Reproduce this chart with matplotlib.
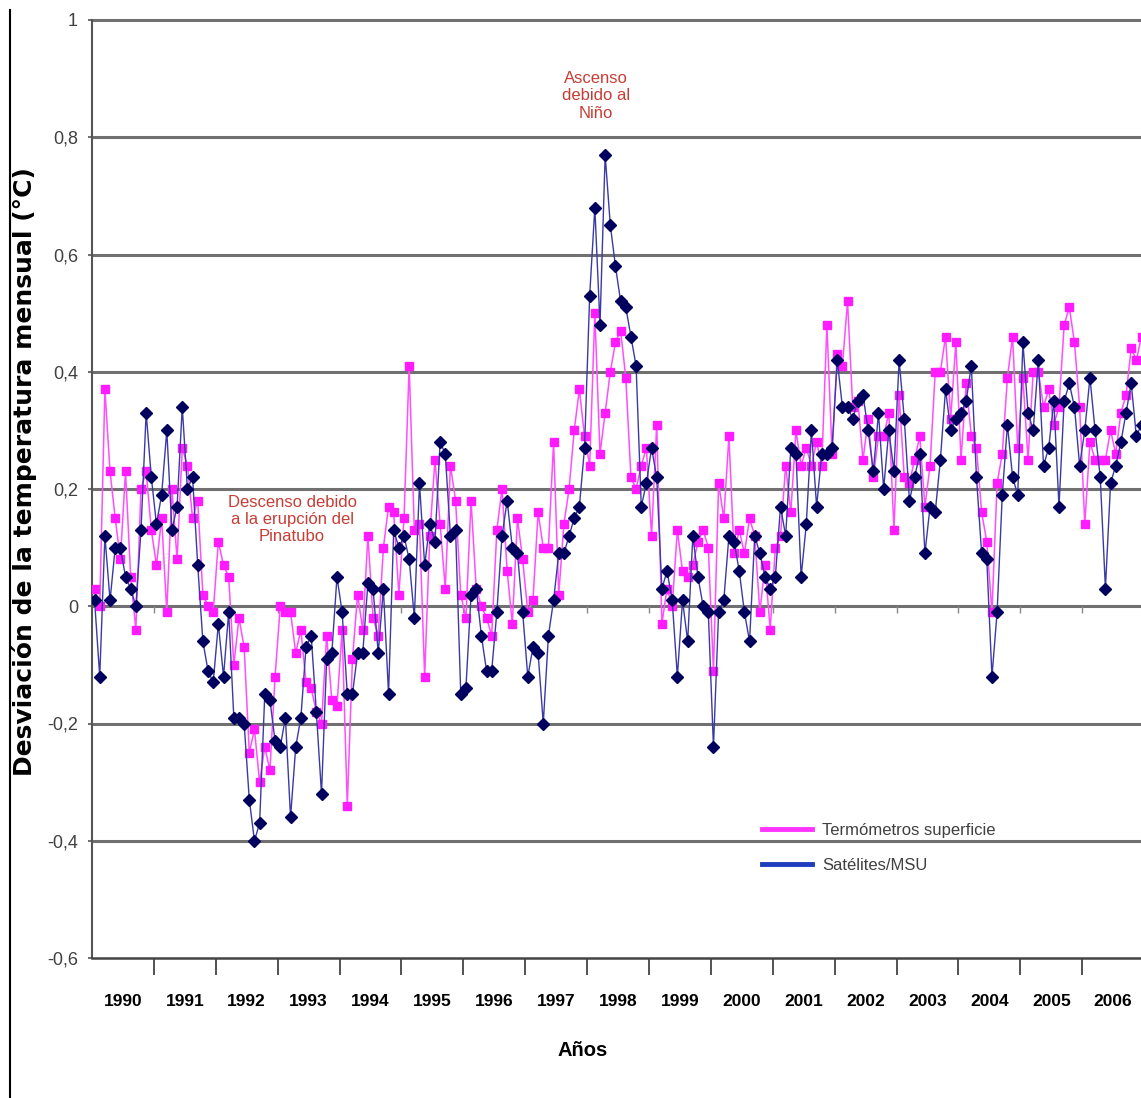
import matplotlib
matplotlib.use("Agg")
import matplotlib.pyplot as plt
from matplotlib.lines import Line2D
import numpy as np

YEARS = list(range(1990, 2007))

# monthly anomaly (°C), Jan 1990 - Dec 2006
SUPERFICIE = [
    0.03, 0.00, 0.37, 0.23, 0.15, 0.08, 0.23, 0.05, -0.04, 0.20, 0.23, 0.13,        # 1990
    0.07, 0.15, -0.01, 0.20, 0.08, 0.27, 0.24, 0.15, 0.18, 0.02, 0.00, -0.01,       # 1991
    0.11, 0.07, 0.05, -0.10, -0.02, -0.07, -0.25, -0.21, -0.30, -0.24, -0.28, -0.12,  # 1992
    0.00, -0.01, -0.01, -0.08, -0.04, -0.13, -0.14, -0.18, -0.20, -0.05, -0.16, -0.17,  # 1993
    -0.04, -0.34, -0.09, 0.02, -0.04, 0.12, -0.02, -0.05, 0.10, 0.17, 0.16, 0.02,   # 1994
    0.15, 0.41, 0.13, 0.14, -0.12, 0.12, 0.25, 0.14, 0.03, 0.24, 0.18, 0.02,        # 1995
    -0.02, 0.18, 0.03, 0.00, -0.02, -0.05, 0.13, 0.20, 0.06, -0.03, 0.15, 0.08,     # 1996
    -0.01, 0.01, 0.16, 0.10, 0.10, 0.28, 0.02, 0.14, 0.20, 0.30, 0.37, 0.29,        # 1997
    0.24, 0.50, 0.26, 0.33, 0.40, 0.45, 0.47, 0.39, 0.22, 0.20, 0.24, 0.27,         # 1998
    0.12, 0.31, -0.03, 0.03, 0.00, 0.13, 0.06, 0.05, 0.07, 0.11, 0.13, 0.10,        # 1999
    -0.11, 0.21, 0.15, 0.29, 0.09, 0.13, 0.09, 0.15, 0.12, -0.01, 0.07, -0.04,      # 2000
    0.10, 0.12, 0.24, 0.16, 0.30, 0.24, 0.27, 0.24, 0.28, 0.24, 0.48, 0.26,         # 2001
    0.43, 0.41, 0.52, 0.34, 0.35, 0.25, 0.32, 0.22, 0.29, 0.29, 0.33, 0.13,         # 2002
    0.36, 0.22, 0.21, 0.25, 0.29, 0.17, 0.24, 0.40, 0.40, 0.46, 0.32, 0.45,         # 2003
    0.25, 0.38, 0.29, 0.27, 0.16, 0.11, -0.01, 0.21, 0.26, 0.39, 0.46, 0.27,        # 2004
    0.39, 0.25, 0.40, 0.40, 0.34, 0.37, 0.31, 0.34, 0.48, 0.51, 0.45, 0.34,         # 2005
    0.14, 0.28, 0.25, 0.25, 0.25, 0.30, 0.26, 0.33, 0.36, 0.44, 0.42, 0.46,         # 2006
]

SATELITES = [
    0.01, -0.12, 0.12, 0.01, 0.10, 0.10, 0.05, 0.03, 0.00, 0.13, 0.33, 0.22,        # 1990
    0.14, 0.19, 0.30, 0.13, 0.17, 0.34, 0.20, 0.22, 0.07, -0.06, -0.11, -0.13,      # 1991
    -0.03, -0.12, -0.01, -0.19, -0.19, -0.20, -0.33, -0.40, -0.37, -0.15, -0.16, -0.23,  # 1992
    -0.24, -0.19, -0.36, -0.24, -0.19, -0.07, -0.05, -0.18, -0.32, -0.09, -0.08, 0.05,  # 1993
    -0.01, -0.15, -0.15, -0.08, -0.08, 0.04, 0.03, -0.08, 0.03, -0.15, 0.13, 0.10,  # 1994
    0.12, 0.08, -0.02, 0.21, 0.07, 0.14, 0.11, 0.28, 0.26, 0.12, 0.13, -0.15,       # 1995
    -0.14, 0.02, 0.03, -0.05, -0.11, -0.11, -0.01, 0.12, 0.18, 0.10, 0.09, -0.01,   # 1996
    -0.12, -0.07, -0.08, -0.20, -0.05, 0.01, 0.09, 0.09, 0.12, 0.15, 0.17, 0.27,    # 1997
    0.53, 0.68, 0.48, 0.77, 0.65, 0.58, 0.52, 0.51, 0.46, 0.41, 0.17, 0.21,         # 1998
    0.27, 0.22, 0.03, 0.06, 0.01, -0.12, 0.01, -0.06, 0.12, 0.05, 0.00, -0.01,      # 1999
    -0.24, -0.01, 0.01, 0.12, 0.11, 0.06, -0.01, -0.06, 0.12, 0.09, 0.05, 0.03,     # 2000
    0.05, 0.17, 0.12, 0.27, 0.26, 0.05, 0.14, 0.30, 0.17, 0.26, 0.26, 0.27,         # 2001
    0.42, 0.34, 0.34, 0.32, 0.35, 0.36, 0.30, 0.23, 0.33, 0.20, 0.30, 0.23,         # 2002
    0.42, 0.32, 0.18, 0.22, 0.26, 0.09, 0.17, 0.16, 0.25, 0.37, 0.30, 0.32,         # 2003
    0.33, 0.35, 0.41, 0.22, 0.09, 0.08, -0.12, -0.01, 0.19, 0.31, 0.22, 0.19,       # 2004
    0.45, 0.33, 0.30, 0.42, 0.24, 0.27, 0.35, 0.17, 0.35, 0.38, 0.34, 0.24,         # 2005
    0.30, 0.39, 0.30, 0.22, 0.03, 0.21, 0.24, 0.28, 0.33, 0.38, 0.29, 0.31,         # 2006
]

SERIES_LABELS = ["Termómetros superficie", "Satélites/MSU"]
Y_TICKS = [-0.6, -0.4, -0.2, 0.0, 0.2, 0.4, 0.6, 0.8, 1.0]

NARROW = ["Liberation Sans", "DejaVu Sans"]
plt.rcParams["font.family"] = ["Liberation Sans", "DejaVu Sans"]

W, H = 1141, 1098
fig = plt.figure(figsize=(W / 100, H / 100), dpi=100)
ax = fig.add_axes([92 / W, 1 - 958 / H, (W - 92) / W, (958 - 20) / H])

t = np.arange(len(SUPERFICIE)) + 0.5
ax.plot(t, SUPERFICIE, color="#ff4dff", lw=1.1, marker="s", ms=6.3,
        mfc="#ff1aff", mec="#ff1aff", zorder=3)
ax.plot(t, SATELITES, color="#3a3aa6", lw=1.0, marker="D", ms=6,
        mfc="#00005e", mec="#00005e", zorder=4)

ax.set_xlim(0, 203.4)
ax.set_ylim(-0.6, 1.0)

# horizontal grid
for v in Y_TICKS[1:]:
    ax.axhline(v, color="#707070", lw=2.2, zorder=1, clip_on=False)

# small marks on the zero line
bounds = [12 * k for k in range(1, len(YEARS))]
ax.vlines(bounds, -0.012, 0, color="#888888", lw=1, zorder=1)

def fmt(v):
    s = ("%.1f" % v).replace(".", ",")
    return s[:-2] if s.endswith(",0") else s

ax.set_yticks(Y_TICKS, labels=[fmt(v) for v in Y_TICKS])
ax.tick_params(axis="y", length=3, width=1.2, color="#555555", pad=7,
               labelsize=13, labelcolor="#404040")

ax.set_xticks(bounds, labels=[""] * len(bounds))
ax.set_xticks([12 * k + 6 for k in range(len(YEARS))],
              labels=[str(y) for y in YEARS], minor=True,
              fontfamily=NARROW, fontweight="bold", fontsize=12.5)
ax.tick_params(axis="x", which="major", length=12, width=1.3, color="#444444")
ax.tick_params(axis="x", which="minor", length=0, pad=26)

for side in ["top", "right"]:
    ax.spines[side].set_visible(False)
ax.spines["left"].set_color("#555555")
ax.spines["left"].set_linewidth(1.5)
ax.spines["bottom"].set_color("#444444")
ax.spines["bottom"].set_linewidth(1.8)

red = "#c63d35"
ax.text(97.7, 0.871, "Ascenso\ndebido al\nNiño", ha="center", va="center",
        color=red, fontsize=12, family=NARROW, linespacing=1.2)
ax.text(38.8, 0.148, "Descenso debido\na la erupción del\nPinatubo", ha="center",
        va="center", color=red, fontsize=12, family=NARROW, linespacing=1.2)

handles = [Line2D([], [], color="#ff33ff", lw=3.5),
           Line2D([], [], color="#1f3dbf", lw=3.5)]
leg = ax.legend(handles, SERIES_LABELS, loc="upper left", bbox_to_anchor=(0.639, 0.144),
                frameon=False, prop={"family": NARROW, "size": 12}, handlelength=3.0,
                handletextpad=0.6, labelspacing=1.2, borderpad=0, borderaxespad=0)
for txt in leg.get_texts():
    txt.set_color("#404040")

fig.text(24 / W, 1 - 472 / H, "Desviación de la temperatura mensual (°C)", rotation=90,
         ha="center", va="center", fontsize=18, fontweight="bold", family="DejaVu Sans")
fig.text(583 / W, 1 - 1050 / H, "Años", ha="center", va="center", fontsize=14.5,
         fontweight="bold", family=NARROW)

# frame line at the left edge
fig.add_artist(Line2D([9.5 / W, 9.5 / W], [0, 1 - 10 / H], transform=fig.transFigure,
                      color="black", lw=1.5))

fig.savefig("out.png", dpi=100)
